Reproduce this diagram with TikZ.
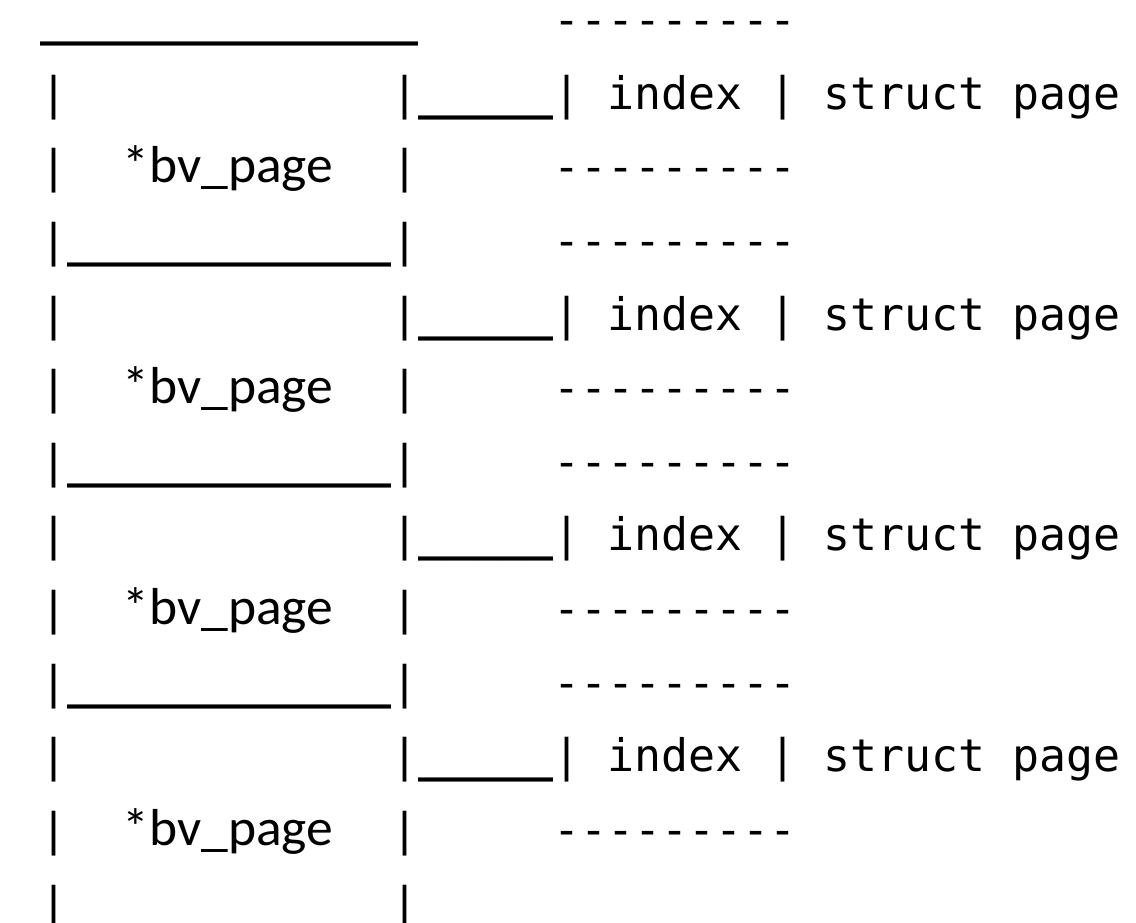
\documentclass[tikz,border=0pt]{standalone}
\usepackage{fontspec}
\newfontfamily\asciifont{DejaVu Sans Mono}
\newfontfamily\pagefont{Carlito}
\tikzset{
    ascii/.style={font=\asciifont\fontsize{22.43pt}{26pt}\selectfont, anchor=base west, inner sep=0pt},
    ptrtext/.style={font=\pagefont\fontsize{26pt}{31pt}\selectfont, anchor=base west, inner sep=0pt, xscale=1.03},
}
\newcommand{\dashrun}{\hbox{-}\hbox{-}\hbox{-}\hbox{-}\hbox{-}\hbox{-}\hbox{-}\hbox{-}\hbox{-}}
\newcommand{\rulerun}[1]{{\bfseries\foreach \i in {1,...,#1}{\_}}}
\newcommand{\drawindexrow}[2]{
    \node[ascii] (#1-left)  at (0,#2)  {|};
    \node[ascii] (#1-link)  at (13,#2) {|\rulerun{5}|};
    \node[ascii] (#1-index) at (21,#2) {index};
    \node[ascii] (#1-sep)   at (27,#2) {|};
    \node[ascii] (#1-page)  at (29,#2) {struct page};
}
\newcommand{\drawptrrow}[2]{
    \node[ascii]   (#1-left)  at (0,#2)    {|};
    \node[ptrtext] (#1-ptr)   at (3.05,#2) {*bv\_page};
    \node[ascii]   (#1-right) at (13,#2)   {|};
    \node[ascii]   (#1-dash)  at (19,#2)   {\dashrun};
}
\newcommand{\drawboxbottom}[2]{
    \node[ascii] (#1-bottom) at (0,#2)  {|\rulerun{12}|};
    \node[ascii] (#1-dash)   at (19,#2) {\dashrun};
}

\begin{document}
\begin{tikzpicture}[x=13.5pt, y=-36.8pt]
    \useasboundingbox (-1.4815,-0.4864) rectangle (40.5926,12.0543);
    % top of the array
    \node[ascii] (top-edge) at (0,0)  {\rulerun{14}};
    \node[ascii] (top-dash) at (19,0) {\dashrun};
    % first bio_vec
    \drawindexrow{a1}{1}
    \drawptrrow{a2}{2}
    \drawboxbottom{a3}{3}
    % second bio_vec
    \drawindexrow{b1}{4}
    \drawptrrow{b2}{5}
    \drawboxbottom{b3}{6}
    % third bio_vec
    \drawindexrow{c1}{7}
    \drawptrrow{c2}{8}
    \drawboxbottom{c3}{9}
    % fourth bio_vec
    \drawindexrow{d1}{10}
    \drawptrrow{d2}{11}
    \node[ascii] (end-left)  at (0,12)  {|};
    \node[ascii] (end-right) at (13,12) {|};
\end{tikzpicture}
\end{document}
